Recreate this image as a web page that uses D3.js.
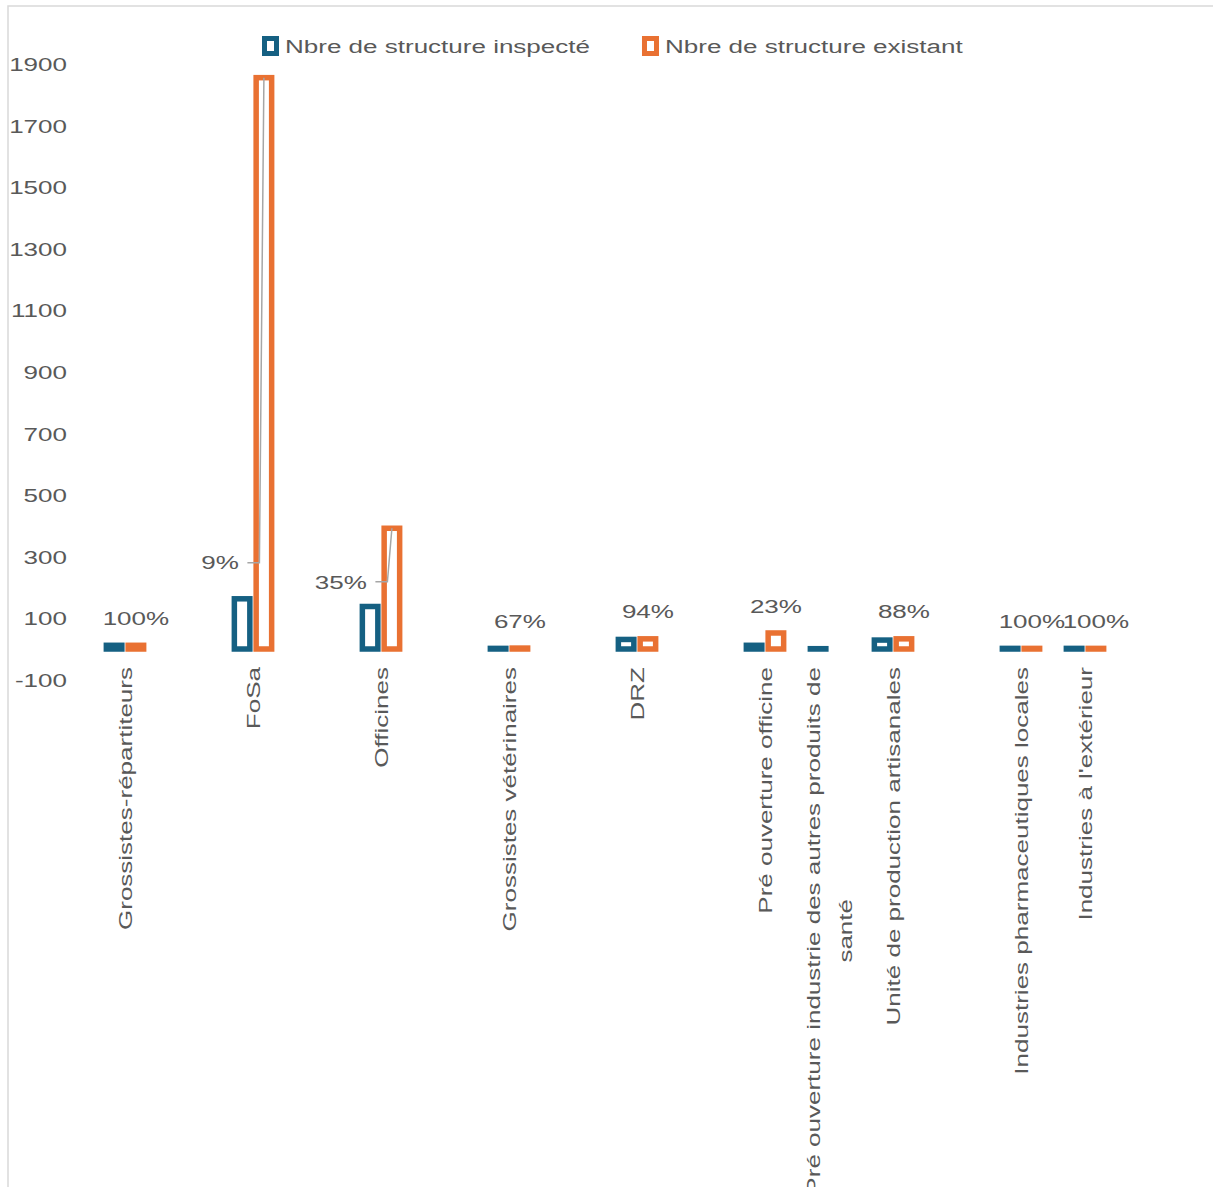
<!DOCTYPE html>
<html lang="fr">
<head>
<meta charset="utf-8">
<script src="https://cdn.jsdelivr.net/npm/d3@7"></script>
<style>
  html, body { margin: 0; padding: 0; background: #fff; }
  svg { display: block; }
  text { font-family: "Liberation Sans", Arial, sans-serif; fill: #595959; }
</style>
</head>
<body>
<svg id="chart" width="1213" height="1187"></svg>
<script>
// Categories (empty strings are spacer rows of the source table)
const categories = [
  "Grossistes-répartiteurs", "", "FoSa", "", "Officines", "",
  "Grossistes vétérinaires", "", "DRZ", "", "Pré ouverture officine",
  "Pré ouverture industrie des autres produits de santé",
  "Unité de production artisanales", "", "Industries pharmaceutiques locales",
  "Industries à l'extérieur", ""
];
// Number of structures inspected
const inspected = [12, null, 163, null, 138, null, 2, null, 31, null, 12, 1, 29, null, 2, 2, null];
// Number of existing structures
const existing  = [12, null, 1855, null, 392, null, 3, null, 33, null, 52, null, 33, null, 2, 2, null];

const seriesNames = ["Nbre de structure inspecté", "Nbre de structure existant"];
const seriesColors = ["#156082", "#E97132"];
const yTicks = [-100, 100, 300, 500, 700, 900, 1100, 1300, 1500, 1700, 1900];

// Percentage labels that were dragged beside their bar (label level in axis units)
const movedLabelLevel = { "FoSa": 280, "Officines": 218 };

// ---- layout ----
const W = 1213, H = 1187;
const fontSize = 19;      // px
const stretch = 1.37;     // horizontal glyph stretch of the chart font
const barWidth = 15.5, barStroke = 5.5;

const svg = d3.select("#chart");

// chart area border (clipped at right/bottom)
svg.append("rect")
  .attr("x", 8).attr("y", 6)
  .attr("width", W + 20).attr("height", H + 20)
  .attr("fill", "none").attr("stroke", "#d9d9d9").attr("stroke-width", 1.5);

const x = d3.scaleBand()
  .domain(d3.range(categories.length))
  .range([93, 93 + 64 * categories.length])
  .padding(0);
const xSub = d3.scaleBand().domain([0, 1]).range([-21.8, 21.8]);
const y = d3.scaleLinear().domain([-100, 1900]).range([679.8, 63.8]);

const cx = i => x(i) + x.bandwidth() / 2;
const barCx = (i, s) => cx(i) + xSub(s) + xSub.bandwidth() / 2;

// ---- y axis (labels only) ----
const yAxis = svg.append("g")
  .attr("transform", "translate(67,0)")
  .call(d3.axisLeft(y).tickValues(yTicks).tickSize(0).tickPadding(0).tickFormat(d => String(d)));
yAxis.select(".domain").remove();
yAxis.selectAll("text")
  .attr("x", 0).attr("dy", "0.35em")
  .attr("transform", `scale(${stretch},1)`)
  .style("font-size", fontSize + "px")
  .style("font-family", '"Liberation Sans", Arial, sans-serif')
  .attr("fill", "#595959");

// ---- bars ----
const seriesData = [inspected, existing];
const barsG = svg.append("g");
seriesData.forEach((vals, s) => {
  barsG.selectAll(null)
    .data(vals.map((v, i) => ({ v, i })).filter(d => d.v !== null))
    .join("rect")
    .attr("x", d => barCx(d.i, s) - barWidth / 2)
    .attr("width", barWidth)
    .attr("y", d => y(Math.max(d.v, 0)))
    .attr("height", d => Math.abs(y(d.v) - y(0)))
    .attr("fill", "#fff")
    .attr("stroke", seriesColors[s])
    .attr("stroke-width", barStroke);
});

// ---- percentage labels ----
const labelsG = svg.append("g");
categories.forEach((c, i) => {
  const a = inspected[i], b = existing[i];
  if (a === null || b === null || !b) return;
  const txt = Math.round(100 * a / b) + "%";
  const bx = barCx(i, 1);
  if (c in movedLabelLevel) {
    const ly = y(movedLabelLevel[c]);
    labelsG.append("path")
      .attr("d", `M${bx - 16.5},${ly}H${bx - 4.5}L${bx},${y(b)}`)
      .attr("fill", "none").attr("stroke", "#a6a6a6").attr("stroke-width", 1.5);
    labelsG.append("text")
      .attr("transform", `translate(${bx - 25},${ly}) scale(${stretch},1)`)
      .attr("text-anchor", "end").attr("dy", "0.35em")
      .style("font-size", fontSize + "px")
      .text(txt);
  } else {
    labelsG.append("text")
      .attr("transform", `translate(${bx},${y(b) - 27}) scale(${stretch},1)`)
      .attr("text-anchor", "middle").attr("dy", "0.35em")
      .style("font-size", fontSize + "px")
      .text(txt);
  }
});

// ---- category labels (rotated, wrapped) ----
const catG = svg.append("g");
const maxLine = 400, lineGap = 32, labelTop = y(0) + 18;
categories.forEach((c, i) => {
  if (!c) return;
  const g = catG.append("g")
    .attr("transform", `translate(${cx(i)},${labelTop}) rotate(-90) scale(${stretch},1)`);
  const probe = g.append("text").style("font-size", fontSize + "px");
  const words = c.split(" ");
  const lines = [];
  let cur = "";
  words.forEach(w => {
    const test = cur ? cur + " " + w : w;
    probe.text(test);
    if (probe.node().getComputedTextLength() > maxLine && cur) {
      lines.push(cur); cur = w;
    } else cur = test;
  });
  lines.push(cur);
  const lens = lines.map(l => { probe.text(l); return probe.node().getComputedTextLength(); });
  probe.remove();
  const maxLen = d3.max(lens);
  lines.forEach((l, k) => {
    g.append("text")
      .attr("x", -maxLen / 2)
      .attr("y", (k - (lines.length - 1) / 2) * lineGap)
      .attr("dy", "0.35em")
      .attr("text-anchor", "middle")
      .style("font-size", fontSize + "px")
      .text(l);
  });
});

// ---- legend ----
const legend = svg.append("g").attr("transform", "translate(262,46)");
let lx = 0;
seriesNames.forEach((name, s) => {
  legend.append("rect")
    .attr("x", lx + 2.5).attr("y", -7.5)
    .attr("width", 12).attr("height", 15)
    .attr("fill", "#fff").attr("stroke", seriesColors[s]).attr("stroke-width", 5);
  const t = legend.append("text")
    .attr("transform", `translate(${lx + 23},0) scale(${stretch},1)`)
    .attr("dy", "0.35em")
    .style("font-size", fontSize + "px")
    .text(name);
  lx += 23 + t.node().getComputedTextLength() * stretch + 52;
});
</script>
</body>
</html>
